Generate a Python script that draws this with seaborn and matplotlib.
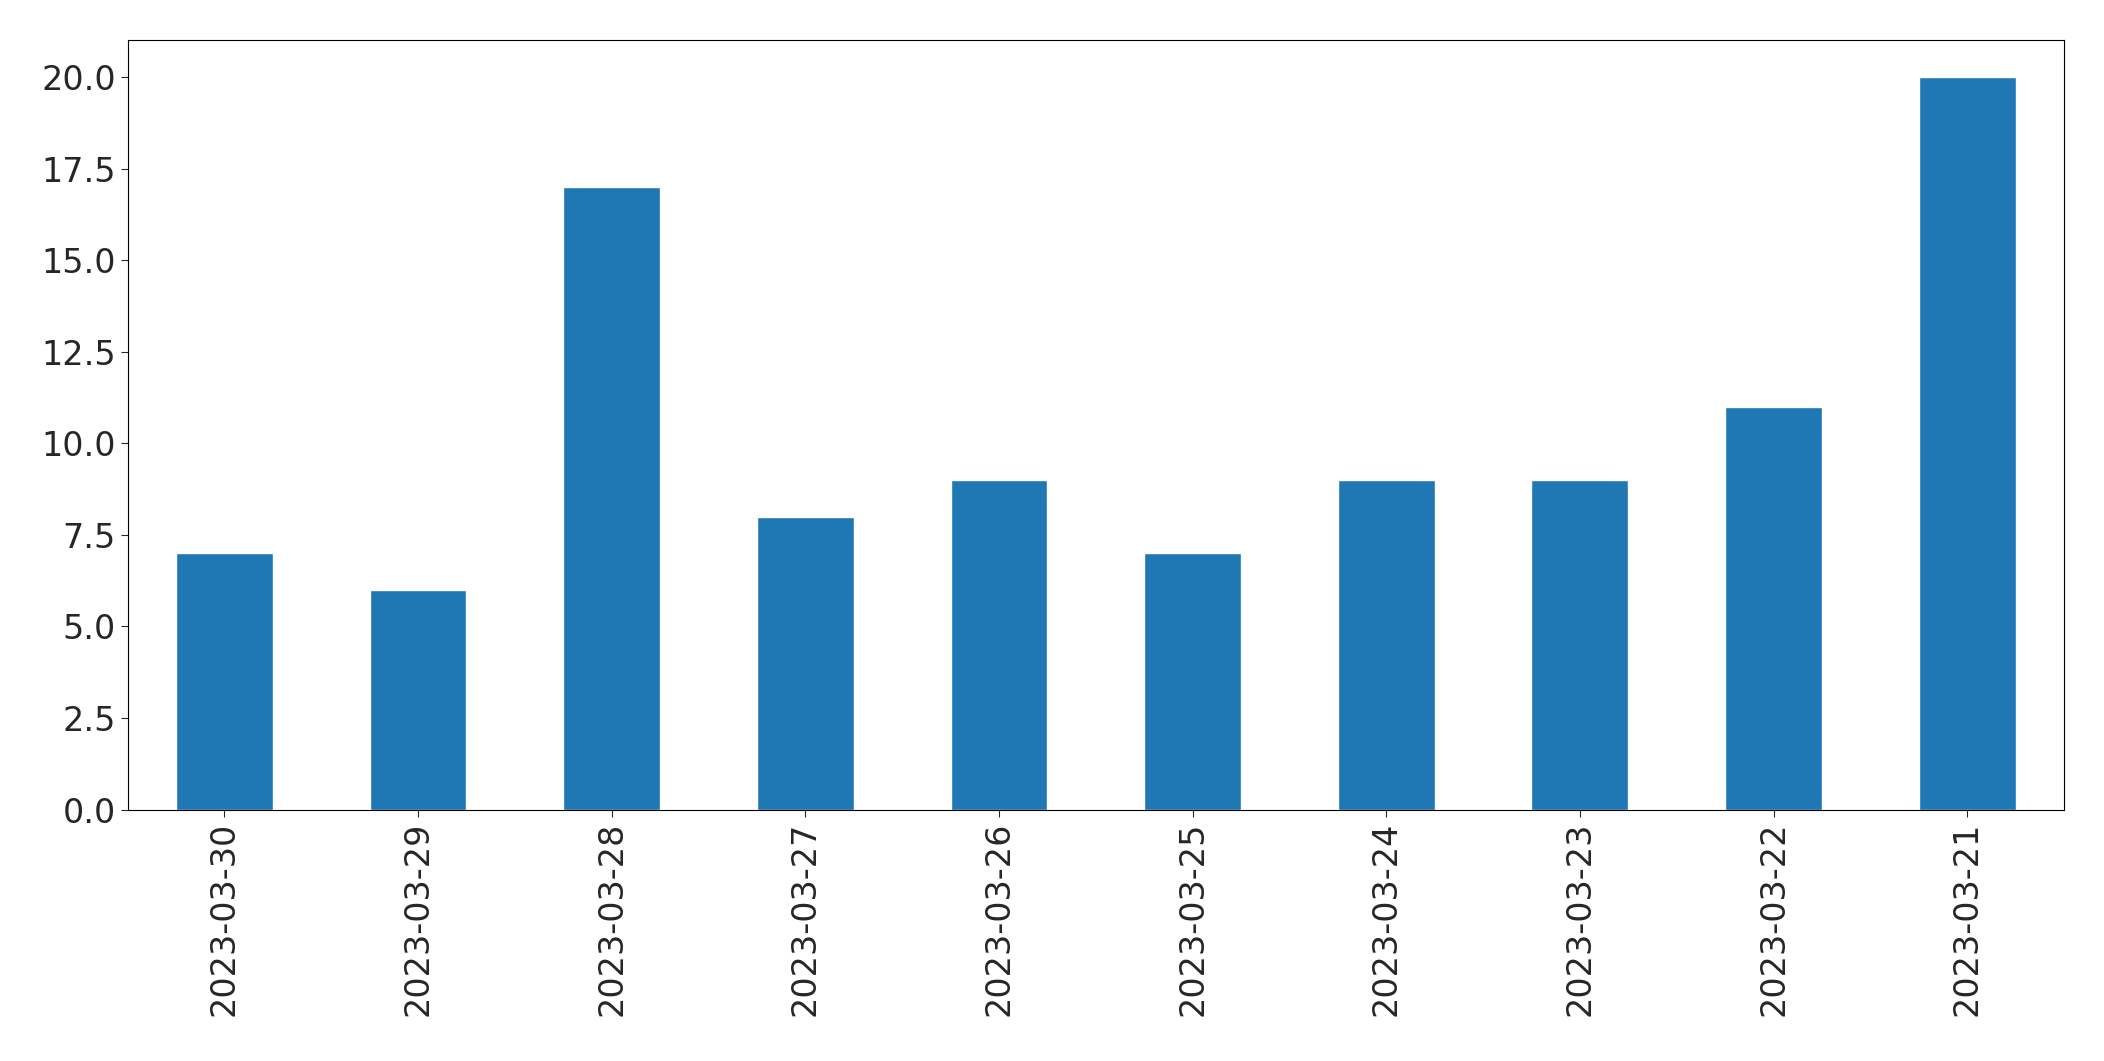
import matplotlib
matplotlib.use("Agg")
import matplotlib.pyplot as plt
import seaborn as sns
import pandas as pd

dates = ["2023-03-30","2023-03-29","2023-03-28","2023-03-27","2023-03-26",
         "2023-03-25","2023-03-24","2023-03-23","2023-03-22","2023-03-21"]
counts = [7, 6, 17, 8, 9, 7, 9, 9, 11, 20]

sns.set_style("ticks")
plt.rcParams['font.family'] = ['DejaVu Sans']
df = pd.DataFrame({"date": dates, "count": counts})

fig = plt.figure(figsize=(21.04, 10.61), dpi=100)
ax = fig.add_axes([0.0606, 0.237, 0.9204, 0.725])
sns.barplot(data=df, x="date", y="count", color="#1f77b4", saturation=1, width=0.5, ax=ax)
ax.set_xlabel("")
ax.set_ylabel("")
ax.set_ylim(0, 21)
ax.set_yticks([0, 2.5, 5, 7.5, 10, 12.5, 15, 17.5, 20])
ax.set_yticklabels(["0.0","2.5","5.0","7.5","10.0","12.5","15.0","17.5","20.0"])
ax.tick_params(axis='both', labelsize=24, length=5)
ax.tick_params(axis='x', rotation=90)
for s in ax.spines.values():
    s.set_visible(True); s.set_color("black"); s.set_linewidth(0.8)
fig.savefig("out.png", dpi=100)
